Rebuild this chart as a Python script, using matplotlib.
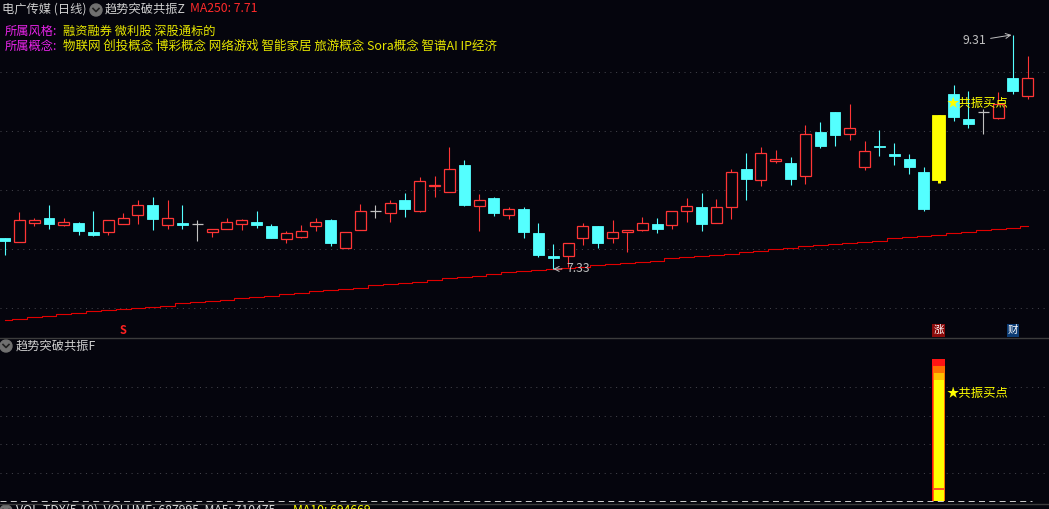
import matplotlib
matplotlib.use('Agg')
import matplotlib.pyplot as plt
from matplotlib.patches import Rectangle, Ellipse
from matplotlib.lines import Line2D

plt.rcParams['font.family'] = ['Noto Sans CJK SC', 'DejaVu Sans']

# 电广传媒 daily candles (70 days)
opens = [7.59, 7.56, 7.72, 7.76, 7.70, 7.72, 7.64, 7.64, 7.71, 7.79,
         7.87, 7.70, 7.72, 7.71, 7.64, 7.67, 7.71, 7.73, 7.69, 7.58,
         7.60, 7.69, 7.74, 7.51, 7.66, 7.82, 7.80, 7.91, 7.82, 8.03,
         7.98, 8.21, 7.86, 7.93, 7.79, 7.84, 7.63, 7.44, 7.44, 7.59,
         7.69, 7.59, 7.64, 7.66, 7.71, 7.70, 7.82, 7.85, 7.72, 7.85,
         8.18, 8.08, 8.24, 8.23, 8.12, 8.49, 8.66, 8.47, 8.19, 8.37,
         8.30, 8.26, 8.15, 8.08, 8.81, 8.60, 8.66, 8.61, 8.95, 8.79]
highs = [7.59, 7.81, 7.76, 7.87, 7.76, 7.73, 7.82, 7.74, 7.80, 7.91,
         7.94, 7.91, 7.87, 7.74, 7.67, 7.76, 7.75, 7.82, 7.71, 7.65,
         7.70, 7.76, 7.75, 7.64, 7.88, 7.87, 7.91, 7.97, 8.11, 8.12,
         8.36, 8.25, 7.96, 7.94, 7.85, 7.85, 7.72, 7.54, 7.55, 7.72,
         7.69, 7.74, 7.66, 7.77, 7.76, 7.82, 7.93, 7.97, 7.92, 8.18,
         8.31, 8.36, 8.34, 8.28, 8.55, 8.57, 8.66, 8.73, 8.41, 8.51,
         8.40, 8.30, 8.19, 8.63, 8.89, 8.84, 8.68, 8.83, 9.31, 9.13]
lows = [7.45, 7.56, 7.69, 7.67, 7.69, 7.62, 7.61, 7.62, 7.71, 7.71,
        7.66, 7.67, 7.67, 7.57, 7.60, 7.67, 7.66, 7.68, 7.59, 7.55,
        7.59, 7.65, 7.52, 7.51, 7.66, 7.76, 7.73, 7.77, 7.81, 7.94,
        7.98, 7.86, 7.65, 7.78, 7.75, 7.59, 7.43, 7.33, 7.35, 7.53,
        7.51, 7.55, 7.47, 7.65, 7.63, 7.67, 7.73, 7.65, 7.72, 7.75,
        7.91, 8.03, 8.23, 8.04, 8.05, 8.35, 8.37, 8.42, 8.17, 8.29,
        8.21, 8.13, 7.82, 8.06, 8.58, 8.52, 8.47, 8.60, 8.81, 8.77]
closes = [7.57, 7.74, 7.74, 7.71, 7.73, 7.65, 7.62, 7.74, 7.76, 7.87,
          7.75, 7.76, 7.70, 7.71, 7.67, 7.73, 7.74, 7.70, 7.59, 7.63,
          7.65, 7.73, 7.55, 7.64, 7.82, 7.82, 7.89, 7.84, 8.07, 8.04,
          8.18, 7.87, 7.91, 7.80, 7.84, 7.64, 7.45, 7.42, 7.55, 7.69,
          7.55, 7.64, 7.66, 7.72, 7.67, 7.82, 7.86, 7.71, 7.85, 8.15,
          8.09, 8.31, 8.26, 8.09, 8.47, 8.37, 8.46, 8.52, 8.33, 8.36,
          8.29, 8.19, 7.84, 8.63, 8.62, 8.56, 8.66, 8.73, 8.84, 8.95]
ma250 = [6.90, 6.91, 6.92, 6.93, 6.95, 6.96, 6.97, 6.98, 6.99, 7.00,
         7.01, 7.02, 7.04, 7.05, 7.06, 7.07, 7.08, 7.09, 7.10, 7.12,
         7.13, 7.14, 7.15, 7.16, 7.17, 7.19, 7.20, 7.21, 7.22, 7.24,
         7.25, 7.26, 7.27, 7.29, 7.30, 7.31, 7.32, 7.33, 7.34, 7.35,
         7.36, 7.37, 7.38, 7.39, 7.40, 7.42, 7.43, 7.44, 7.45, 7.46,
         7.47, 7.48, 7.50, 7.51, 7.52, 7.53, 7.54, 7.55, 7.56, 7.57,
         7.59, 7.60, 7.61, 7.62, 7.63, 7.64, 7.66, 7.67, 7.68, 7.69]
signal_day = 63
signal_value = 100
s_day, zhang_day, cai_day = 8, 63, 68
price_grid = [7.0, 7.5, 8.0, 8.5, 9.0]
ind_grid = [20, 40, 60, 80]

style_tags = "融资融券 微利股 深股通标的"
concept_tags = "物联网 创投概念 博彩概念 网络游戏 智能家居 旅游概念 Sora概念 智谱AI IP经济"

BG = '#05050d'
RED = '#ff3535'
CYAN = '#54ffff'
GREY = '#c0c0c0'
YEL = '#ffff00'
W, H = 1049, 509


def fx(px):
    return px / W


def fy(py):
    return 1 - py / H


fig = plt.figure(figsize=(W / 100, H / 100), dpi=100, facecolor=BG)
ax = fig.add_axes([0, fy(337), 1, 337 / H])
ax2 = fig.add_axes([0, fy(503), 1, 165 / H])
for a in (ax, ax2):
    a.set_facecolor(BG)
    a.set_axis_off()
    a.set_xlim(-0.3035, 70.43)
ax.set_ylim(6.754, 9.606)
ax2.set_ylim(-1.41, 114.8)

dot = (0, (1, 4.7))
for g in price_grid:
    ax.axhline(g, color='#44444c', lw=0.72, ls=dot, zorder=0)
for g in ind_grid:
    ax2.axhline(g, color='#44444c', lw=0.72, ls=dot, zorder=0)

# candles
w = 0.74
for i, (o, h, l, c) in enumerate(zip(opens, highs, lows, closes)):
    if i == signal_day:
        ax.vlines(i, l, h, color=YEL, lw=2.2, zorder=2)
        ax.add_patch(Rectangle((i - 0.44, min(o, c)), 0.88, abs(c - o), fc=YEL, ec=YEL, lw=0.6, zorder=3))
    elif c > o:
        ax.vlines(i, c, h, color=RED, lw=0.8, zorder=2)
        ax.vlines(i, l, o, color=RED, lw=0.8, zorder=2)
        ax.add_patch(Rectangle((i - w / 2, o), w, c - o, fc=BG, ec=RED, lw=0.9, zorder=3))
    elif c < o:
        ax.vlines(i, l, h, color=CYAN, lw=0.8, zorder=2)
        ax.add_patch(Rectangle((i - w / 2, c), w, o - c, fc=CYAN, ec=CYAN, lw=0.6, zorder=3))
    else:
        ax.vlines(i, l, h, color=GREY, lw=0.8, zorder=2)
        ax.hlines(o, i - w / 2, i + w / 2, color=GREY, lw=0.9, zorder=3)

ax.plot(range(len(ma250)), ma250, color='#e00000', lw=0.8, drawstyle='steps-mid', zorder=1)

# extreme labels
ax.annotate('9.31', xy=(68 - 0.1, 9.31), xytext=(-25, -6), textcoords='offset pixels',
            ha='right', va='center', color=GREY, fontsize=8.8,
            arrowprops=dict(arrowstyle='->', color=GREY, lw=0.7, shrinkA=1, shrinkB=0))
ax.annotate('7.33', xy=(37, 7.33), xytext=(13, 0), textcoords='offset pixels',
            ha='left', va='center', color=GREY, fontsize=8.8,
            arrowprops=dict(arrowstyle='->', color=GREY, lw=0.7, shrinkA=1, shrinkB=0))

ax.text(signal_day + 0.55, highs[signal_day] + 0.10, '★共振买点', color=YEL, fontsize=8.9,
        ha='left', va='center', zorder=5)

# bottom markers of main panel
ax.text(s_day, 6.805, 'S', color='#ff2020', fontsize=8, fontweight='bold', ha='center', va='center')
ax.text(zhang_day, 6.81, '涨', color='white', fontsize=7.5, ha='center', va='center',
        bbox=dict(boxstyle='square,pad=0.12', fc='#8a0a0a', ec='none'))
ax.text(cai_day, 6.81, '财', color='white', fontsize=7.5, ha='center', va='center',
        bbox=dict(boxstyle='square,pad=0.12', fc='#0c3c74', ec='none'))

# indicator panel
ax2.hlines(0, -0.3, 69.3, color='#c8c8c8', lw=0.72, linestyles=(0, (6, 4.3)), zorder=1)
layers = [(signal_value, 0.88, '#ff1414'), (signal_value * 0.95, 0.78, '#ff7000'),
          (signal_value * 0.90, 0.66, '#ffc000'), (signal_value * 0.85, 0.64, YEL)]
for top, bw, col in layers:
    ax2.bar(signal_day, top, width=bw, bottom=0, color=col, zorder=2)
ax2.hlines(signal_value * 0.085, signal_day - 0.32, signal_day + 0.32, color='#ff3030', lw=1.2, zorder=3)
ax2.text(signal_day + 0.55, 76, '★共振买点', color=YEL, fontsize=8.9, ha='left', va='center')

# panel separators
fig.add_artist(Line2D([0, 1], [fy(337.5), fy(337.5)], color='#3c3c3c', lw=1))
fig.add_artist(Line2D([0, 1], [fy(503.5), fy(503.5)], color='#3c3c3c', lw=1))


def icon(px, py):
    fig.add_artist(Ellipse((fx(px), fy(py)), 12 / W, 12 / H, transform=fig.transFigure, color='#707070'))
    fig.add_artist(Line2D([fx(px - 3), fx(px), fx(px + 3)], [fy(py - 1.5), fy(py + 1.5), fy(py - 1.5)],
                          color='#202020', lw=1.2))


fs = 8.8
fig.text(fx(2), fy(9), '电广传媒 (日线)', color='#cfcfcf', fontsize=fs, va='center')
icon(96, 10)
fig.text(fx(105), fy(9), '趋势突破共振Z', color='#cfcfcf', fontsize=fs, va='center')
fig.text(fx(190), fy(9), 'MA250: 7.71', color='#ff2a2a', fontsize=fs, va='center')
fig.text(fx(5), fy(31), '所属风格:', color='#e824e8', fontsize=fs, va='center')
fig.text(fx(63), fy(31), style_tags, color='#e6e600', fontsize=fs, va='center')
fig.text(fx(5), fy(46), '所属概念:', color='#e824e8', fontsize=fs, va='center')
fig.text(fx(63), fy(46), concept_tags, color='#e6e600', fontsize=9.0, va='center')

icon(6, 346)
fig.text(fx(16), fy(346), '趋势突破共振F', color='#cfcfcf', fontsize=fs, va='center')

# volume header, clipped by the bottom edge as in the terminal screenshot
icon(6, 511)
fig.text(fx(16), fy(504), 'VOL-TDX(5,10)  VOLUME: 687995  MA5: 710475', color='#dcdcdc', fontsize=fs, va='top')
fig.text(fx(293), fy(504), 'MA10: 694669', color=YEL, fontsize=fs, va='top')

fig.savefig('out.png', dpi=100, facecolor=BG)
